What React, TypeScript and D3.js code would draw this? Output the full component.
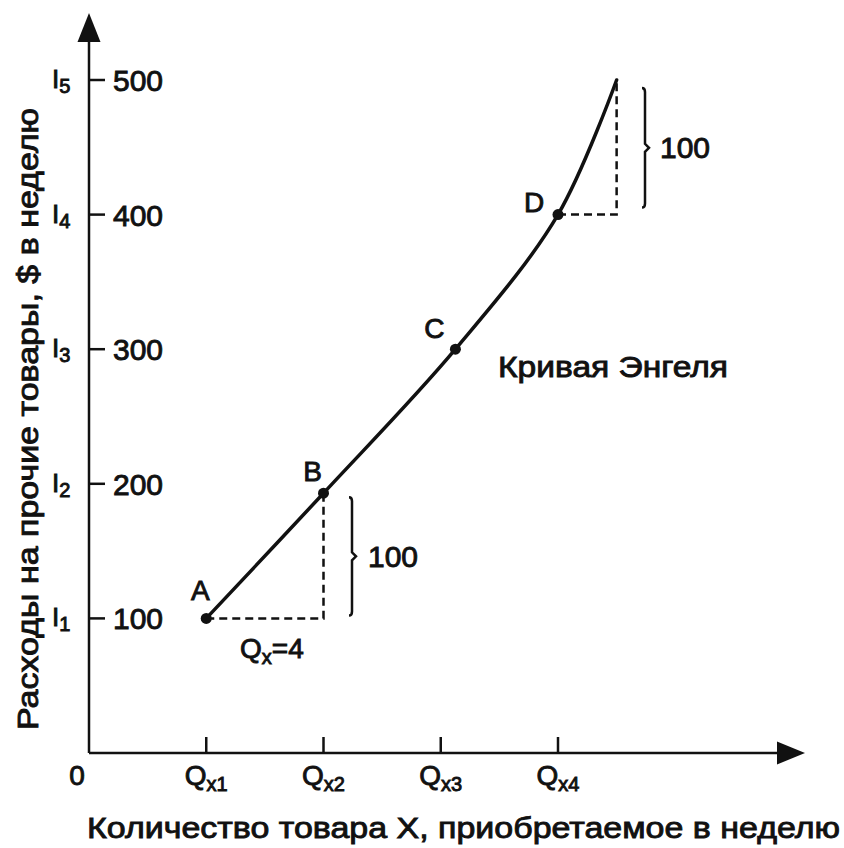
import React from "react";
import * as d3 from "d3";

// ---- data ----
const yTickValues = [100, 200, 300, 400, 500];
const yTickIndex = ["1", "2", "3", "4", "5"];
const xTickValues = [4, 8, 12, 16];
const xTickIndex = ["1", "2", "3", "4"];
const curveQ = [4, 8, 12.5, 16, 18];
const curveSpend = [100, 193, 300, 400, 500];
const pointNames = ["A", "B", "C", "D"];
const stepLabel = "100";
const qStepLabel = "=4";
const curveTitle = "Кривая Энгеля";
const xTitle = "Количество товара X, приобретаемое в неделю";
const yTitle = "Расходы на прочие товары, $ в неделю";

const FONT = "'Liberation Sans', Arial, Helvetica, sans-serif";
const INK = "#111";

export default function App() {
  const W = 844, H = 848;
  const x = d3.scaleLinear().domain([0, 16]).range([89, 558]);
  const y = d3.scaleLinear().domain([0, 500]).range([753, 80]);
  const x0 = x(0), y0 = y(0);

  const pts: [number, number][] = curveQ.map((q, i) => [x(q), y(curveSpend[i])]);
  const line = d3.line<[number, number]>().x(d => d[0]).y(d => d[1]).curve(d3.curveCatmullRom.alpha(0.5));

  const labelOff: [number, number][] = [[-6, -28], [-11, -22], [-21, -21], [-24, -13]];

  const A = pts[0], B = pts[1], D = pts[3], E = pts[4];

  const brace = (bx: number, y1: number, y2: number) => {
    const ym = (y1 + y2) / 2;
    return `M${bx - 3},${y1} Q${bx},${y1} ${bx},${y1 + 4} L${bx},${ym - 4} L${bx + 4},${ym} L${bx},${ym + 4} L${bx},${y2 - 4} Q${bx},${y2} ${bx - 3},${y2}`;
  };

  const textStyle = { fontFamily: FONT, fill: INK, stroke: INK, strokeWidth: 0.9 } as const;

  return (
    <svg width={W} height={H} style={{ position: "absolute", left: 0, top: 0, background: "#fff" }}>
      <rect width={W} height={H} fill="#fff" />
      {/* axes */}
      <line x1={x0} y1={y0} x2={x0} y2={30} stroke={INK} strokeWidth={2.5} />
      <path d={`M${x0},13 L${x0 - 11.5},42 L${x0 + 11.5},42 Z`} fill={INK} />
      <line x1={x0} y1={y0} x2={785} y2={y0} stroke={INK} strokeWidth={2.5} />
      <path d={`M805,${y0} L777,${y0 - 11.5} L777,${y0 + 11.5} Z`} fill={INK} />

      {/* y ticks */}
      {yTickValues.map((v, i) => (
        <g key={"yt" + v}>
          <line x1={x0} x2={x0 + 16} y1={y(v)} y2={y(v)} stroke={INK} strokeWidth={2.5} />
          <text x={113} y={y(v) + 11} fontSize={30} {...textStyle}>{v}</text>
          <text x={52} y={y(v) + 8} fontSize={26} {...textStyle}>
            I<tspan fontSize={20} dy={5}>{yTickIndex[i]}</tspan>
          </text>
        </g>
      ))}

      {/* x ticks */}
      {xTickValues.map((v, i) => (
        <g key={"xt" + v}>
          <line x1={x(v)} x2={x(v)} y1={y0} y2={y0 - 16} stroke={INK} strokeWidth={2.5} />
          <text x={x(v)} y={785} fontSize={28} textAnchor="middle" {...textStyle}>
            Q<tspan fontSize={20} dy={6}>{"x" + xTickIndex[i]}</tspan>
          </text>
        </g>
      ))}
      <text x={77} y={785} fontSize={28} textAnchor="middle" {...textStyle}>0</text>

      {/* dashed helpers */}
      <path d={`M${A[0]},${A[1]} L${B[0]},${A[1]} L${B[0]},${B[1]}`} fill="none" stroke={INK} strokeWidth={2.5} strokeDasharray="8,5" />
      <path d={`M${D[0]},${D[1]} L${E[0]},${D[1]} L${E[0]},${E[1]}`} fill="none" stroke={INK} strokeWidth={2.5} strokeDasharray="8,5" />

      {/* curve */}
      <path d={line(pts) || ""} fill="none" stroke={INK} strokeWidth={3.5} strokeLinecap="round" />
      {pts.slice(0, 4).map((p, i) => (
        <g key={"p" + i}>
          <circle cx={p[0]} cy={p[1]} r={5.5} fill={INK} />
          <text x={p[0] + labelOff[i][0]} y={p[1] + labelOff[i][1] + 10} fontSize={28} textAnchor="middle" {...textStyle}>{pointNames[i]}</text>
        </g>
      ))}

      {/* braces */}
      <path d={brace(352, B[1] + 4, A[1] - 3)} fill="none" stroke={INK} strokeWidth={2.5} />
      <text x={368} y={(B[1] + A[1]) / 2 + 11} fontSize={30} {...textStyle}>{stepLabel}</text>
      <path d={brace(645, E[1] + 8, D[1] - 7)} fill="none" stroke={INK} strokeWidth={2.5} />
      <text x={660} y={(E[1] + D[1]) / 2 + 11} fontSize={30} {...textStyle}>{stepLabel}</text>

      {/* Qx = 4 */}
      <text x={240} y={658} fontSize={28} {...textStyle}>
        Q<tspan fontSize={20} dy={6}>x</tspan><tspan fontSize={28} dy={-6}>{qStepLabel}</tspan>
      </text>

      {/* curve title */}
      <text x={498} y={377} fontSize={30} textLength={230} lengthAdjust="spacingAndGlyphs" {...textStyle}>{curveTitle}</text>

      {/* axis titles */}
      <text x={87} y={838} fontSize={30} textLength={753} lengthAdjust="spacingAndGlyphs" {...textStyle}>{xTitle}</text>
      <text x={0} y={0} fontSize={30} textAnchor="middle" textLength={622} lengthAdjust="spacingAndGlyphs"
        transform={`translate(38,419) rotate(-90)`} {...textStyle}>{yTitle}</text>
    </svg>
  );
}
